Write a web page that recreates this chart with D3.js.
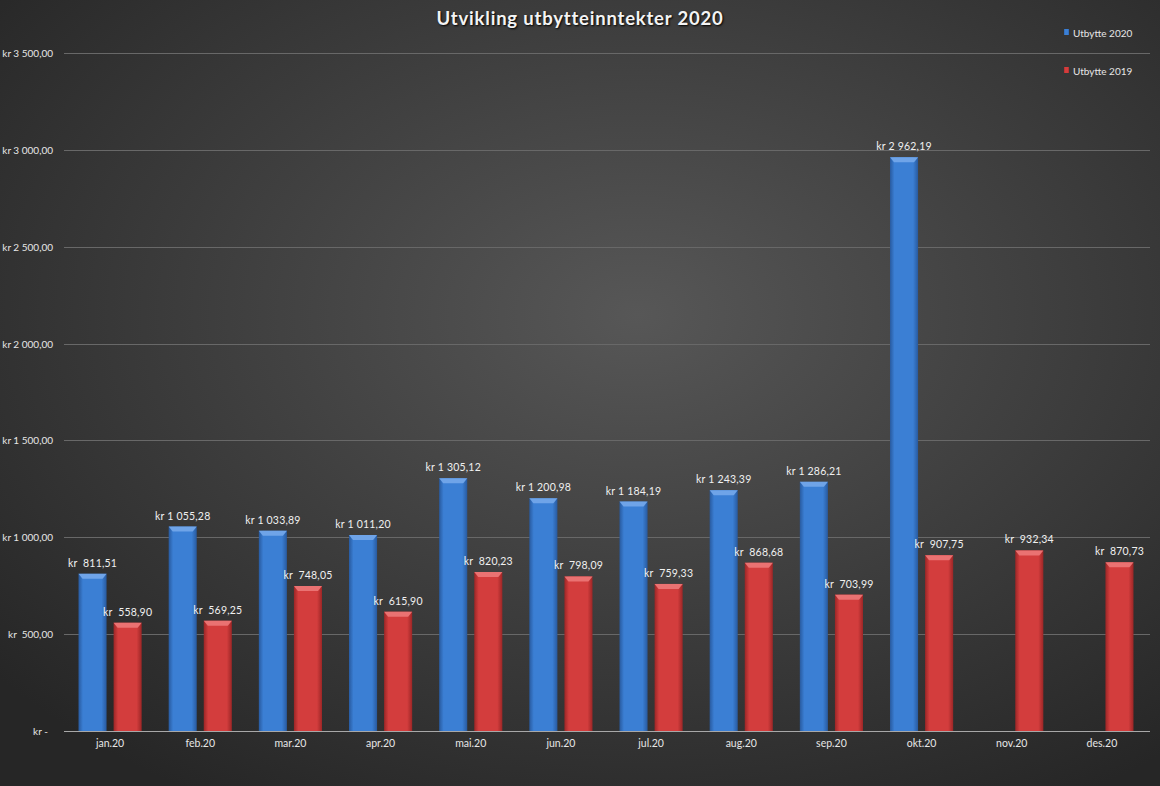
<!DOCTYPE html>
<html>
<head>
<meta charset="utf-8">
<script src="https://cdn.jsdelivr.net/npm/d3@7"></script>
<style>
  html, body { margin: 0; padding: 0; background: #2a2a2a; }
  svg { display: block; }
  text { font-family: Lato, "Open Sans", sans-serif; }
</style>
</head>
<body>
<svg id="chart" width="1160" height="786"></svg>
<script>
// data
const months = ['jan.20', 'feb.20', 'mar.20', 'apr.20', 'mai.20', 'jun.20',
                'jul.20', 'aug.20', 'sep.20', 'okt.20', 'nov.20', 'des.20'];
const series = ['Utbytte 2020', 'Utbytte 2019'];
const utbytte2020 = [811.51, 1055.28, 1033.89, 1011.20, 1305.12, 1200.98,
                     1184.19, 1243.39, 1286.21, 2962.19, null, null];
const utbytte2019 = [558.90, 569.25, 748.05, 615.90, 820.23, 798.09,
                     759.33, 868.68, 703.99, 907.75, 932.34, 870.73];
const yTicks = [0, 500, 1000, 1500, 2000, 2500, 3000, 3500];

const W = 1160, H = 786;
const margin = { top: 53, right: 13, bottom: 55, left: 65 };

const svg = d3.select('#chart');
const defs = svg.append('defs');

// background
const bg = defs.append('radialGradient').attr('id', 'bg')
  .attr('cx', '55%').attr('cy', '40%').attr('r', '72%');
bg.append('stop').attr('offset', '0%').attr('stop-color', '#575757');
bg.append('stop').attr('offset', '100%').attr('stop-color', '#262626');
svg.append('rect').attr('width', W).attr('height', H).attr('fill', 'url(#bg)');

const palette = {
  'Utbytte 2020': { edge: '#285a9f', mid: '#3b7fd4', cap: '#6fa4e8' },
  'Utbytte 2019': { edge: '#9c2626', mid: '#d33d3d', cap: '#ea7272' }
};
series.forEach((s, i) => {
  const g = defs.append('linearGradient').attr('id', 'bar' + i)
    .attr('x1', '0%').attr('x2', '100%');
  g.append('stop').attr('offset', '0%').attr('stop-color', palette[s].edge);
  g.append('stop').attr('offset', '16%').attr('stop-color', palette[s].mid);
  g.append('stop').attr('offset', '82%').attr('stop-color', palette[s].mid);
  g.append('stop').attr('offset', '100%').attr('stop-color', palette[s].edge);
});

const x0 = d3.scaleBand().domain(months)
  .range([margin.left, W - margin.right]);
const band = x0.bandwidth();
const x1 = d3.scaleBand().domain(series)
  .range([13.5, band - 13.5]).paddingInner(0.2);
const y = d3.scaleLinear().domain([0, 3500])
  .range([H - margin.bottom, margin.top]);

const locale = d3.formatLocale({ decimal: ',', thousands: '\u00a0', grouping: [3], currency: ['', ''] });
const fmt = locale.format(',.2f');
const kr = v => v === 0 ? 'kr -\u00a0\u00a0' : 'kr ' + (v < 1000 ? '\u00a0' : '') + fmt(v);

// gridlines
const grid = svg.append('g');
grid.selectAll('line').data(yTicks.filter(d => d > 0)).enter().append('line')
  .attr('x1', margin.left - 1).attr('x2', W - 10)
  .attr('y1', d => Math.round(y(d)) + 0.5).attr('y2', d => Math.round(y(d)) + 0.5)
  .attr('stroke', '#686868').attr('stroke-width', 1);

// y axis labels
const yAxis = d3.axisLeft(y).tickValues(yTicks).tickSize(0).tickPadding(0)
  .tickFormat(kr);
svg.append('g').attr('transform', `translate(${margin.left - 12},0)`)
  .call(yAxis)
  .call(g => g.select('.domain').remove())
  .call(g => g.selectAll('text')
    .attr('fill', '#e6e6e6').attr('font-size', 10)
    .style('white-space', 'pre').attr('dy', '0.35em'));

// bars
const data = months.map((m, i) => ({
  month: m,
  vals: [
    { key: series[0], idx: 0, v: utbytte2020[i] },
    { key: series[1], idx: 1, v: utbytte2019[i] }
  ].filter(d => d.v != null)
}));

const groups = svg.append('g').selectAll('g').data(data).enter().append('g')
  .attr('transform', d => `translate(${x0(d.month)},0)`);

const bars = groups.selectAll('g').data(d => d.vals).enter().append('g');
bars.append('rect')
  .attr('x', d => x1(d.key))
  .attr('y', d => y(d.v))
  .attr('width', x1.bandwidth())
  .attr('height', d => y(0) - y(d.v))
  .attr('fill', d => `url(#bar${d.idx})`);
// top bevel
bars.append('path')
  .attr('d', d => {
    const l = x1(d.key), r = l + x1.bandwidth(), t = y(d.v);
    return `M${l},${t}L${r},${t}L${r - 4},${t + 5}L${l + 4},${t + 5}Z`;
  })
  .attr('fill', d => palette[d.key].cap);
// data labels
bars.append('text')
  .attr('x', d => x1(d.key) + x1.bandwidth() / 2)
  .attr('y', d => y(d.v) - 7)
  .attr('text-anchor', 'middle')
  .attr('fill', '#f0f0f0').attr('font-size', 10.5)
  .attr('letter-spacing', 0.2)
  .style('white-space', 'pre')
  .text(d => kr(d.v));

// zero line
svg.append('line')
  .attr('x1', margin.left - 1).attr('x2', W - 10)
  .attr('y1', Math.round(y(0)) + 0.5).attr('y2', Math.round(y(0)) + 0.5)
  .attr('stroke', '#a8a8a8').attr('stroke-width', 1.2);

// x axis labels
const xAxis = d3.axisBottom(x0).tickSize(0).tickPadding(9);
svg.append('g').attr('transform', `translate(0,${y(0)})`)
  .call(xAxis)
  .call(g => g.select('.domain').remove())
  .call(g => g.selectAll('text').attr('fill', '#e6e6e6').attr('font-size', 10.5));

// title
svg.append('text')
  .attr('x', 580).attr('y', 25)
  .attr('text-anchor', 'middle')
  .attr('fill', '#f4f4f4').attr('font-size', 18.5).attr('font-weight', 'bold')
  .attr('letter-spacing', 0.8)
  .style('text-shadow', '1px 1px 2px #000')
  .text('Utvikling utbytteinntekter 2020');

// legend
const legend = svg.append('g').attr('transform', 'translate(1064,33)');
const li = legend.selectAll('g').data(series).enter().append('g')
  .attr('transform', (d, i) => `translate(0,${i * 38})`);
li.append('rect').attr('x', 0).attr('y', -4).attr('width', 5).attr('height', 6)
  .attr('fill', (d, i) => `url(#bar${i})`);
li.append('text').attr('x', 9).attr('y', 0).attr('dy', '0.35em')
  .attr('fill', '#e6e6e6').attr('font-size', 10)
  .text(d => d);
</script>
</body>
</html>
